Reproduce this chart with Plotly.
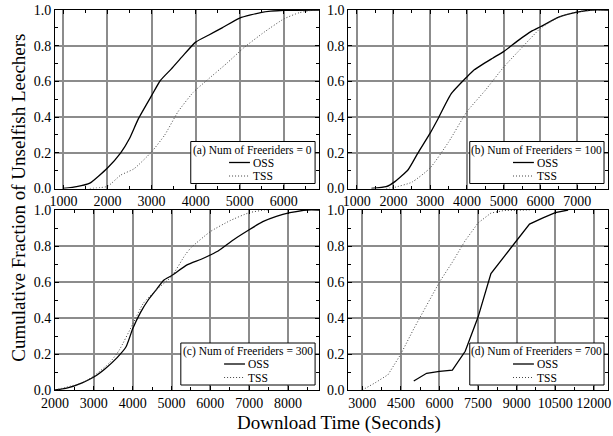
import plotly.graph_objects as go

# ---------------- data ----------------
a_oss_x = [1000, 1300, 1600, 2000, 2300, 2500, 2700, 3000, 3200, 3450, 3700, 4000, 4300, 4600, 5000, 5500, 6000, 6800]
a_oss_y = [0.0, 0.01, 0.03, 0.115, 0.20, 0.28, 0.39, 0.52, 0.605, 0.67, 0.74, 0.82, 0.86, 0.90, 0.955, 0.987, 0.998, 1.0]
a_tss_x = [1600, 2000, 2300, 2600, 3000, 3300, 3600, 3950, 4250, 4700, 5100, 5550, 6000, 6350, 6700, 6800]
a_tss_y = [0.0, 0.012, 0.075, 0.11, 0.205, 0.30, 0.43, 0.54, 0.605, 0.70, 0.79, 0.875, 0.95, 0.985, 1.0, 1.0]

b_oss_x = [1400, 1800, 2050, 2400, 2670, 3000, 3200, 3570, 4000, 4200, 4700, 5000, 5400, 5750, 6000, 6500, 7000, 7400, 7840]
b_oss_y = [0.0, 0.01, 0.04, 0.105, 0.2, 0.31, 0.385, 0.53, 0.625, 0.665, 0.73, 0.767, 0.83, 0.88, 0.906, 0.96, 0.988, 1.0, 1.0]
b_tss_x = [1800, 2000, 2500, 3000, 3500, 4000, 4500, 5000, 5500, 6000, 6500, 7000, 7500, 7840]
b_tss_y = [0.0, 0.005, 0.035, 0.115, 0.26, 0.43, 0.55, 0.68, 0.79, 0.897, 0.96, 0.99, 1.0, 1.0]

c_oss_x = [2000, 2300, 2700, 3000, 3300, 3600, 3830, 4000, 4200, 4400, 4600, 4800, 5000, 5400, 5750, 6000, 6200, 6600, 7000, 7350, 7700, 8050, 8500, 8800]
c_oss_y = [0.0, 0.01, 0.04, 0.072, 0.12, 0.18, 0.24, 0.34, 0.43, 0.5, 0.555, 0.61, 0.635, 0.695, 0.725, 0.75, 0.772, 0.835, 0.89, 0.935, 0.965, 0.985, 1.0, 1.0]
c_tss_x = [2000, 2700, 3000, 3400, 3650, 4000, 4270, 4600, 5000, 5350, 5500, 6000, 6500, 7000, 7400, 7500]
c_tss_y = [0.0, 0.04, 0.078, 0.15, 0.22, 0.365, 0.48, 0.555, 0.63, 0.75, 0.79, 0.88, 0.94, 0.985, 1.0, 1.0]

d_oss_x = [5000, 5500, 6000, 6500, 7000, 7500, 8000, 8500, 9000, 9500, 10000, 10500, 11000]
d_oss_y = [0.05, 0.093, 0.103, 0.11, 0.215, 0.405, 0.647, 0.74, 0.83, 0.922, 0.955, 0.985, 1.0]
d_tss_x = [3000, 3500, 4000, 4500, 5000, 5500, 6000, 6500, 7000, 7500, 8000, 8500, 9000, 9500]
d_tss_y = [0.0, 0.04, 0.085, 0.2, 0.34, 0.47, 0.6, 0.71, 0.83, 0.928, 0.983, 0.997, 1.0, 1.0]

panel_titles = ["(a) Num of Freeriders = 0", "(b) Num of Freeriders = 100",
                "(c) Num of Freeriders = 300", "(d) Num of Freeriders = 700"]
series_names = ["OSS", "TSS"]
x_ranges = [[810, 6800], [775, 7840], [2000, 8800], [2460, 12550]]
x_dticks = [1000, 1000, 1000, 1500]
x_tick0 = [0, 0, 0, 3000]

# ---------------- layout geometry ----------------
W, H = 613, 436
ML, MR, MT, MB = 55, 2, 10, 46
PW, PH = W - ML - MR, H - MT - MB
# panel pixel boxes (x0, x1, y0, y1)
panels = [(55, 320.5, 10, 188.5), (350, 611, 10, 188.5),
          (55, 320.5, 210, 390), (350, 611, 210, 390)]


def fx(px):
    return (px - ML) / PW


def fy(py):
    return (MT + PH - py) / PH


FONT = "Liberation Serif"
OSS_STYLE = dict(color="black", width=1.3)
TSS_STYLE = dict(color="#444444", width=1, dash="1px,2px")

data = [(a_oss_x, a_oss_y, a_tss_x, a_tss_y), (b_oss_x, b_oss_y, b_tss_x, b_tss_y),
        (c_oss_x, c_oss_y, c_tss_x, c_tss_y), (d_oss_x, d_oss_y, d_tss_x, d_tss_y)]

fig = go.Figure()
for i, (ox, oy, tx, ty) in enumerate(data):
    xa = "x" if i == 0 else f"x{i+1}"
    ya = "y" if i == 0 else f"y{i+1}"
    shape = "linear" if i == 3 else "spline"
    fig.add_trace(go.Scatter(x=ox, y=oy, mode="lines", name=series_names[0], xaxis=xa, yaxis=ya,
                             line=dict(shape=shape, smoothing=0.5, **OSS_STYLE), showlegend=False))
    fig.add_trace(go.Scatter(x=tx, y=ty, mode="lines", name=series_names[1], xaxis=xa, yaxis=ya,
                             line=dict(shape=shape, smoothing=0.5, **TSS_STYLE), showlegend=False))

common = dict(showline=True, linecolor="black", linewidth=1, mirror="allticks",
              ticks="inside", ticklen=4, tickcolor="black", showgrid=True,
              gridcolor="#8c8c8c", gridwidth=2, zeroline=False, ticklabeloverflow="allow",
              tickfont=dict(family=FONT, size=14, color="black"))

layout = dict(width=W, height=H, margin=dict(l=ML, r=MR, t=MT, b=MB),
              paper_bgcolor="white", plot_bgcolor="white", showlegend=False,
              font=dict(family=FONT, color="black"))

shapes, annotations = [], []
for i, (x0, x1, y0, y1) in enumerate(panels):
    sfx = "" if i == 0 else str(i + 1)
    layout["xaxis" + sfx] = dict(common, domain=[fx(x0), fx(x1)], range=x_ranges[i],
                                 dtick=x_dticks[i], tick0=x_tick0[i], tickformat="d",
                                 anchor="y" + sfx,
                                 minor=dict(ticks="inside", ticklen=3, tickcolor="black",
                                            dtick=x_dticks[i] / 2, showgrid=False))
    layout["yaxis" + sfx] = dict(common, domain=[fy(y1), fy(y0)], range=[0, 1], dtick=0.2,
                                 tickformat=".1f", anchor="x" + sfx,
                                 minor=dict(ticks="inside", ticklen=3, tickcolor="black",
                                            dtick=0.1, showgrid=False))
    # legend box
    bw = 125 if i == 0 else 135
    br, bb = x1 - 4, y1 - 5
    bl, bt = br - bw, bb - 42
    cx = (bl + br) / 2
    shapes.append(dict(type="rect", xref="paper", yref="paper", x0=fx(bl), x1=fx(br),
                       y0=fy(bb), y1=fy(bt), line=dict(color="black", width=1),
                       fillcolor="white", layer="above"))
    annotations.append(dict(text=panel_titles[i], xref="paper", yref="paper", x=fx(cx),
                            y=fy(bt + 8.5), showarrow=False, xanchor="center", yanchor="middle",
                            font=dict(family=FONT, size=11.5, color="black")))
    for k, (name, st) in enumerate(zip(series_names, [OSS_STYLE, TSS_STYLE])):
        ry = bt + 21 + k * 13.5
        shapes.append(dict(type="line", xref="paper", yref="paper", x0=fx(cx - 24), x1=fx(cx - 3),
                           y0=fy(ry), y1=fy(ry), line=st, layer="above"))
        annotations.append(dict(text=name, xref="paper", yref="paper", x=fx(cx - 2), y=fy(ry),
                                showarrow=False, xanchor="left", yanchor="middle",
                                font=dict(family=FONT, size=11.5, color="black")))

annotations.append(dict(text="Download Time (Seconds)", xref="paper", yref="paper",
                        x=fx(341), y=fy(423), showarrow=False, xanchor="center", yanchor="middle",
                        font=dict(family=FONT, size=19, color="black")))
annotations.append(dict(text="Cumulative Fraction of Unselfish Leechers", xref="paper", yref="paper",
                        x=fx(18), y=fy(197.5), showarrow=False, xanchor="center", yanchor="middle",
                        textangle=-90, font=dict(family=FONT, size=19, color="black")))

layout["shapes"] = shapes
layout["annotations"] = annotations
fig.update_layout(**layout)
fig.write_html("out.html", config={"displayModeBar": False},
               post_script="document.body.style.margin='0px';document.body.style.padding='0px';")
